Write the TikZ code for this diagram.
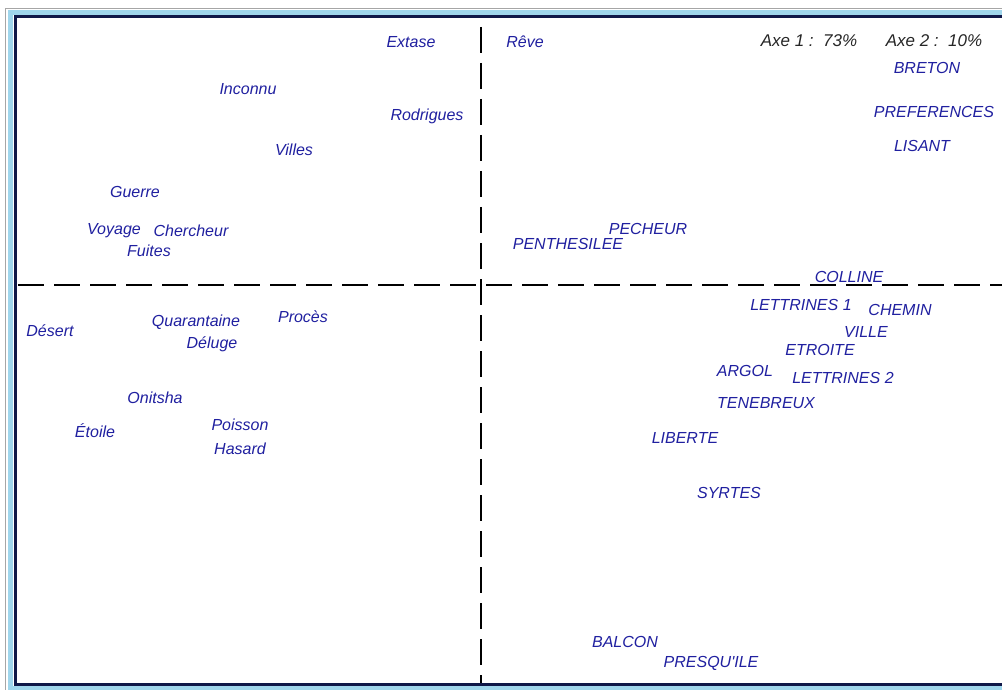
\documentclass[tikz,border=0pt]{standalone}
\usepackage{fontspec}
\setmainfont{Liberation Sans}
\definecolor{ptblue}{RGB}{32,32,160}
\definecolor{framenavy}{RGB}{16,24,72}
\definecolor{framelight}{RGB}{160,214,236}
\begin{document}
\begin{tikzpicture}[x=1pt, y=-1pt, font=\fontsize{16}{18}\selectfont\itshape]
    \tikzset{
      pt/.style={text=ptblue, inner sep=0pt, anchor=center},
      axe/.style={text=black!85, inner sep=0pt, anchor=center,
                  font=\fontsize{17}{19}\selectfont\itshape},
      axis/.style={line width=1.8pt, dash pattern=on 26pt off 10pt},
    }
    \useasboundingbox (0,0) rectangle (1002,690);
    \fill[white] (0,0) rectangle (1002,690);

    \draw[black!35, line width=1pt] (5.5,690) -- (5.5,8.5) -- (1002,8.5);
    \draw[framelight, line width=5pt] (1010,688) -- (10.5,688) -- (10.5,12.5) -- (1010,12.5);
    \draw[framenavy, line width=2.6pt] (1010,684.5) -- (15.3,684.5) -- (15.3,16.6) -- (1010,16.6);

    \coordinate (vtop) at (481,27);
    \coordinate (vbot) at (481,683);
    \coordinate (hleft) at (18,285);
    \coordinate (hright) at (1002,285);
    \draw[axis] (vtop) -- (vbot);
    \draw[axis] (hleft) -- (hright);

    \node[axe] (axe1) at (809,41) {Axe 1 :\ \ 73\%};
    \node[axe] (axe2) at (934,41) {Axe 2 :\ \ 10\%};

    \node[pt] (extase)     at (411,42)  {Extase};
    \node[pt] (inconnu)    at (248,89)  {Inconnu};
    \node[pt] (rodrigues)  at (427,116) {Rodrigues};
    \node[pt] (villes)     at (294,150) {Villes};
    \node[pt] (guerre)     at (135,192) {Guerre};
    \node[pt] (voyage)     at (114,231) {Voyage};
    \node[pt] (chercheur)  at (191,231) {Chercheur};
    \node[pt] (fuites)     at (149,251) {Fuites};

    \node[pt] (reve)       at (525,42)  {Rêve};
    \node[pt] (breton)     at (927,68)  {BRETON};
    \node[pt] (preferences) at (934,112) {PREFERENCES};
    \node[pt] (lisant)     at (922,146) {LISANT};
    \node[pt] (pecheur)    at (648,229) {PECHEUR};
    \node[pt] (penthesilee) at (568,244) {PENTHESILEE};
    \node[pt] (colline)    at (849,277) {COLLINE};

    \node[pt] (desert)     at (50,331)  {Désert};
    \node[pt] (quarantaine) at (196,322) {Quarantaine};
    \node[pt] (proces)     at (303,317) {Procès};
    \node[pt] (deluge)     at (212,344) {Déluge};
    \node[pt] (onitsha)    at (155,398) {Onitsha};
    \node[pt] (etoile)     at (95,431)  {Étoile};
    \node[pt] (poisson)    at (240,425) {Poisson};
    \node[pt] (hasard)     at (240,449) {Hasard};

    \node[pt] (lettrinesa) at (801,305) {LETTRINES 1};
    \node[pt] (chemin)     at (900,310) {CHEMIN};
    \node[pt] (ville)      at (866,332) {VILLE};
    \node[pt] (etroite)    at (820,350) {ETROITE};
    \node[pt] (argol)      at (745,371) {ARGOL};
    \node[pt] (lettrinesb) at (843,378) {LETTRINES 2};
    \node[pt] (tenebreux)  at (766,403) {TENEBREUX};
    \node[pt] (liberte)    at (685,438) {LIBERTE};
    \node[pt] (syrtes)     at (729,493) {SYRTES};
    \node[pt] (balcon)     at (625,642) {BALCON};
    \node[pt] (presquile)  at (711,663) {PRESQU\textquotesingle ILE};
  \end{tikzpicture}
\end{document}
